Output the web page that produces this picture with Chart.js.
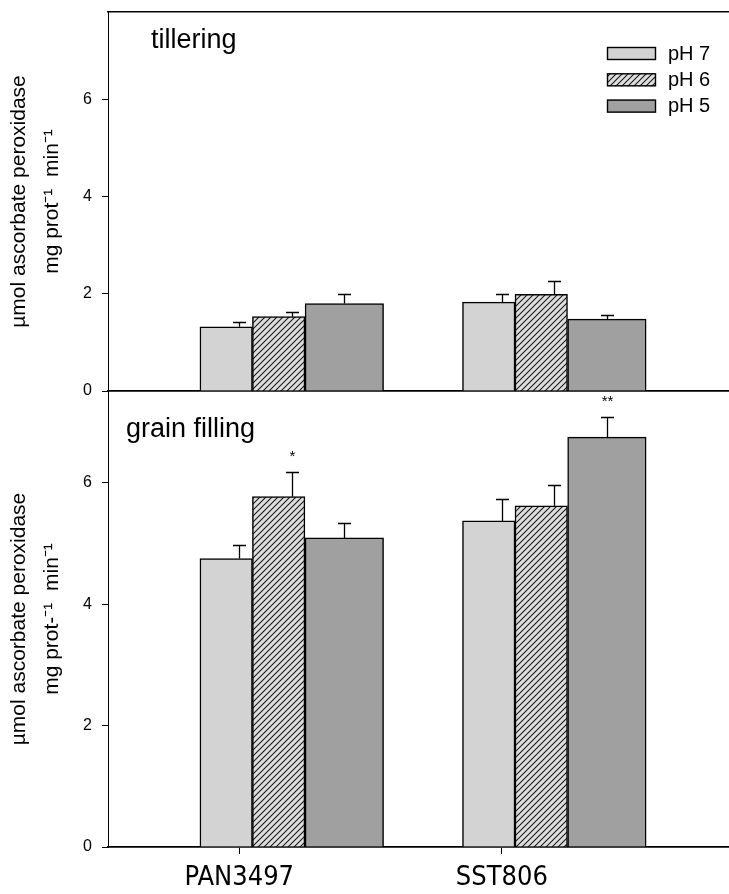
<!DOCTYPE html>
<html lang="en">
<head>
<meta charset="UTF-8">
<title>ascorbate peroxidase</title>
<script src="https://cdn.jsdelivr.net/npm/chart.js"></script>
<style>
  body { margin: 0; background: #fff; width: 729px; height: 894px; overflow: hidden; position: relative; }
  canvas { position: absolute; left: 0; }
  #topChart { top: -6px; }
  #bottomChart { top: 373px; }
</style>
</head>
<body>
<canvas id="topChart" width="729" height="415"></canvas>
<canvas id="bottomChart" width="729" height="528"></canvas>
<script>
const cultivars = ['PAN3497', 'SST806'];
const treatments = ['pH 7', 'pH 6', 'pH 5'];
const yTicks = [0, 2, 4, 6];

// tillering stage, one array per treatment, [PAN3497, SST806]
const tillerPH7 = [1.32, 1.83];
const tillerPH6 = [1.53, 1.99];
const tillerPH5 = [1.80, 1.48];
const tillerErrPH7 = [0.09, 0.16];
const tillerErrPH6 = [0.09, 0.28];
const tillerErrPH5 = [0.20, 0.08];

// grain filling stage
const grainPH7 = [4.75, 5.37];
const grainPH6 = [5.77, 5.62];
const grainPH5 = [5.09, 6.75];
const grainErrPH7 = [0.22, 0.36];
const grainErrPH6 = [0.41, 0.34];
const grainErrPH5 = [0.24, 0.33];
const grainSigPH6 = ['*', ''];
const grainSigPH5 = ['', '**'];

const FONT = "'Liberation Sans', Arial, sans-serif";

// bar layout (category units) - sigmaplot draws the bars slightly left of the error bars
const BAR_OFFSET = [-0.05, 0.15, 0.40];
const BAR_WIDTH = [52.5, 52.5, 78.5];
const ERR_OFFSET = [0, 0.2, 0.4];

// the category labels are in a narrow face; use one if it is installed
function pickNarrow() {
    const c = document.createElement('canvas').getContext('2d');
    const probe = 'PAN3497 SST806';
    c.font = '100px monospace';
    const base = c.measureText(probe).width;
    const names = ["'Liberation Sans Narrow'", "'Arial Narrow'", "'DejaVu Sans Condensed'", "'Open Sans Condensed'", "'Roboto Condensed'"];
    let fam = FONT;
    for (const n of names) {
        c.font = '100px ' + n + ', monospace';
        if (Math.abs(c.measureText(probe).width - base) > 1) { fam = n + ', ' + FONT; break; }
    }
    c.font = '100px ' + fam;
    const w = c.measureText('PAN3497').width;
    return { family: fam, size: Math.round(100 * 111 / w) };
}
const xLabelFont = pickNarrow();

function hatch(ctx) {
    const c = document.createElement('canvas');
    c.width = 6; c.height = 6;
    const g = c.getContext('2d');
    g.fillStyle = '#dedede';
    g.fillRect(0, 0, 6, 6);
    g.strokeStyle = '#1a1a1a';
    g.lineWidth = 1.1;
    g.beginPath();
    g.moveTo(0, 6); g.lineTo(6, 0);
    g.moveTo(-1, 1); g.lineTo(1, -1);
    g.moveTo(5, 7); g.lineTo(7, 5);
    g.stroke();
    return ctx.createPattern(c, 'repeat');
}

function makeDatasets(ctx, series) {
    const fills = ['#d3d3d3', hatch(ctx), '#a0a0a0'];
    return series.map((vals, j) => ({
        label: treatments[j],
        data: vals.map((v, i) => ({ x: i + BAR_OFFSET[j], y: v })),
        backgroundColor: fills[j],
        borderColor: '#000',
        borderWidth: 1.5,
        barThickness: BAR_WIDTH[j],
        categoryPercentage: 1,
        barPercentage: 1,
        grouped: false
    }));
}

function panelPlugin(label, lx, ly, errs, sigs, legend) {
    return {
        id: 'panel',
        afterDatasetsDraw(chart) {
            const ctx = chart.ctx;
            const xs = chart.scales.x, ys = chart.scales.y;
            ctx.save();
            ctx.strokeStyle = '#000';
            ctx.fillStyle = '#000';
            ctx.lineWidth = 1.3;
            chart.data.datasets.forEach((ds, j) => {
                ds.data.forEach((pt, i) => {
                    const px = Math.round(xs.getPixelForValue(i + ERR_OFFSET[j])) + 0.5;
                    const y0 = ys.getPixelForValue(pt.y);
                    const y1 = Math.round(ys.getPixelForValue(pt.y + errs[j][i])) + 0.5;
                    ctx.beginPath();
                    ctx.moveTo(px, y0); ctx.lineTo(px, y1);
                    ctx.moveTo(px - 6.5, y1); ctx.lineTo(px + 6.5, y1);
                    ctx.stroke();
                    const s = sigs[j] && sigs[j][i];
                    if (s) {
                        ctx.font = '15px ' + FONT;
                        ctx.textAlign = 'center';
                        ctx.textBaseline = 'alphabetic';
                        ctx.fillText(s, px, y1 - 12);
                    }
                });
            });

            ctx.font = '27px ' + FONT;
            ctx.textAlign = 'left';
            ctx.textBaseline = 'alphabetic';
            ctx.fillText(label, lx, chart.chartArea.top + ly);

            if (legend) {
                chart.data.datasets.forEach((ds, j) => {
                    const by = chart.chartArea.top + 35 + j * 26.3;
                    ctx.fillStyle = ds.backgroundColor;
                    ctx.fillRect(607, by, 49, 13);
                    ctx.lineWidth = 1.4;
                    ctx.strokeRect(607.5, by + 0.5, 48, 12);
                    ctx.fillStyle = '#000';
                    ctx.font = '20px ' + FONT;
                    ctx.textBaseline = 'middle';
                    ctx.fillText(ds.label, 668, by + 7);
                });
            }
            ctx.restore();
        }
    };
}

function yScale(max, titleLines) {
    return {
        type: 'linear',
        min: 0,
        max: max,
        afterBuildTicks: s => { s.ticks = yTicks.map(v => ({ value: v })); },
        afterFit: s => { s.width = 108; },
        border: { display: true, color: '#000', width: 1 },
        grid: { drawOnChartArea: false, drawTicks: true, tickLength: 6, color: '#000', lineWidth: 1 },
        ticks: { color: '#000', padding: 10, font: { family: FONT, size: 16, lineHeight: 1 } },
        title: {
            display: true,
            text: titleLines,
            color: '#000',
            font: { family: FONT, size: 21, lineHeight: 1.57 },
            padding: { top: 3, bottom: 0 }
        }
    };
}

const X_MIN = -0.5, X_MAX = 1.865;

function xScale(extra) {
    return Object.assign({
        type: 'linear', min: X_MIN, max: X_MAX, offset: false,
        afterBuildTicks: s => { s.ticks = cultivars.map((c, i) => ({ value: i })); },
        grid: { display: false, offset: false },
        ticks: { display: false },
        border: { display: true, color: '#000', width: 1.8 }
    }, extra);
}

const common = {
    responsive: false,
    animation: false,
    devicePixelRatio: 1,
    layout: { padding: 0 },
    plugins: { legend: { display: false }, tooltip: { enabled: false } }
};

// ---- top panel: tillering ----
const topCtx = document.getElementById('topChart').getContext('2d');
new Chart(topCtx, {
    type: 'bar',
    data: { datasets: makeDatasets(topCtx, [tillerPH7, tillerPH6, tillerPH5]) },
    options: Object.assign({}, common, {
        scales: {
            x: xScale({}),
            xt: xScale({ position: 'top', border: { display: true, color: '#000', width: 1.4 } }),
            y: yScale(7.8, ['\u00b5mol ascorbate peroxidase', 'mg prot\u207b\u00b9  min\u207b\u00b9'])
        }
    }),
    plugins: [panelPlugin('tillering', 151, 36,
        [tillerErrPH7, tillerErrPH6, tillerErrPH5], [], true)]
});

// ---- bottom panel: grain filling ----
const botCtx = document.getElementById('bottomChart').getContext('2d');
new Chart(botCtx, {
    type: 'bar',
    data: { datasets: makeDatasets(botCtx, [grainPH7, grainPH6, grainPH5]) },
    options: Object.assign({}, common, {
        scales: {
            x: xScale({
                grid: { display: true, offset: false, drawOnChartArea: false, drawTicks: true, tickLength: 7, color: '#000', lineWidth: 1 },
                ticks: {
                    display: true, color: '#000', padding: 10, maxRotation: 0,
                    font: { family: xLabelFont.family, size: xLabelFont.size, lineHeight: 1 },
                    callback: v => cultivars[v]
                }
            }),
            y: yScale(7.51, ['\u00b5mol ascorbate peroxidase', 'mg prot-\u207b\u00b9  min\u207b\u00b9'])
        }
    }),
    plugins: [panelPlugin('grain filling', 126, 45.5,
        [grainErrPH7, grainErrPH6, grainErrPH5], [[], grainSigPH6, grainSigPH5], false)]
});
</script>
</body>
</html>
